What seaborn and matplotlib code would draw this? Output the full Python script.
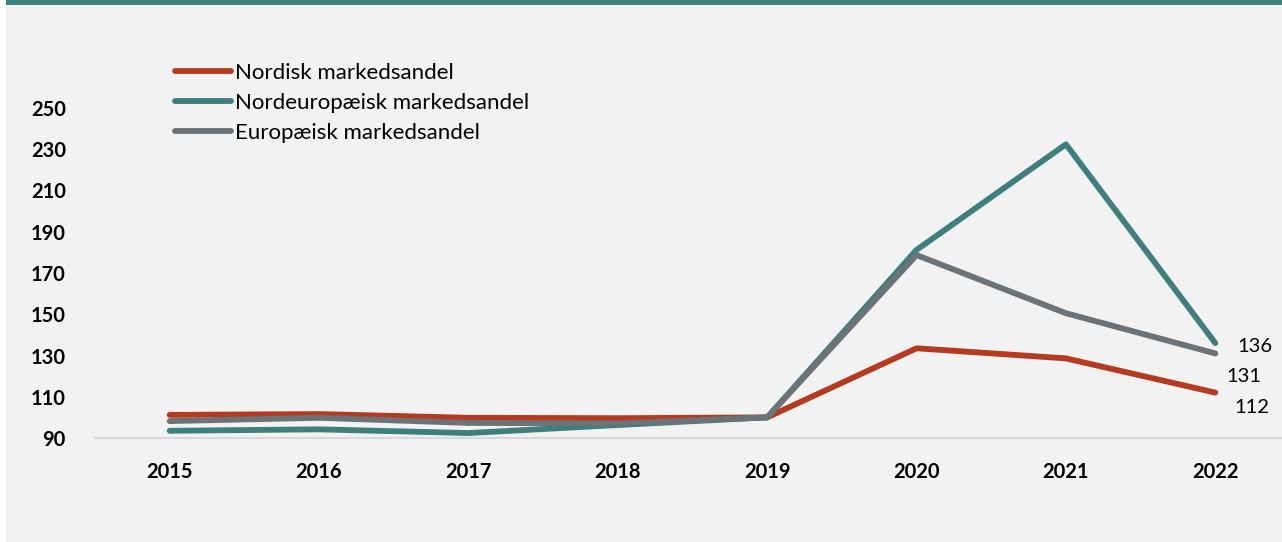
import matplotlib
matplotlib.use("Agg")
import matplotlib.pyplot as plt
from matplotlib.patches import Rectangle
from matplotlib.lines import Line2D
import pandas as pd
import seaborn as sns

years = ["2015", "2016", "2017", "2018", "2019", "2020", "2021", "2022"]
nordisk = [101.2, 101.6, 99.8, 99.6, 100.0, 133.5, 128.6, 112.0]
nordeuropaeisk = [93.5, 94.2, 92.4, 96.3, 100.0, 181.2, 232.4, 136.0]
europaeisk = [98.2, 99.8, 97.3, 97.1, 100.0, 178.7, 150.5, 131.0]

series_names = ["Nordisk markedsandel", "Nordeuropæisk markedsandel", "Europæisk markedsandel"]
series_values = [nordisk, nordeuropaeisk, europaeisk]
colors = ["#b53b20", "#3d7f7c", "#6d7277"]

rows = []
for name, vals in zip(series_names, series_values):
    for i, (yr, v) in enumerate(zip(years, vals)):
        rows.append({"idx": i, "year": yr, "value": v, "serie": name})
df = pd.DataFrame(rows)

sns.set_theme(style="white")
plt.rcParams["font.family"] = ["Lato", "DejaVu Sans"]

W, H = 1282, 542
fig = plt.figure(figsize=(W / 100, H / 100), dpi=100, facecolor="white")

# panel background and top band, kept behind the axes
fig.patches.append(Rectangle((6 / W, 0), 1 - 6 / W, 1 - 5 / H, transform=fig.transFigure,
                             facecolor="#f2f2f2", edgecolor="none", zorder=-5))
fig.patches.append(Rectangle((6 / W, 1 - 5 / H), 1 - 6 / W, 5 / H, transform=fig.transFigure,
                             facecolor="#3d7f7c", edgecolor="none", zorder=-5))

ax = fig.add_axes([95 / W, 104 / H, 1195 / W, 330 / H])
ax.set_facecolor("none")

sns.lineplot(data=df, x="idx", y="value", hue="serie", hue_order=series_names,
             palette=colors, linewidth=4.2, ax=ax, legend=False,
             solid_capstyle="round", solid_joinstyle="round")

ax.set_xlim(-0.5, 7.5)
ax.set_ylim(90, 250)
ax.set_xticks(range(len(years)))
ax.set_xticklabels(years, fontsize=14.5, fontweight="bold", color="black")
ax.set_yticks(range(90, 251, 20))
ax.set_yticklabels([str(t) for t in range(90, 251, 20)], fontsize=14.5,
                   fontweight="bold", color="black")
ax.tick_params(axis="y", length=0, pad=21)
ax.tick_params(axis="x", length=0, pad=17)
ax.set_xlabel("")
ax.set_ylabel("")
for side in ["top", "right", "left"]:
    ax.spines[side].set_visible(False)
ax.spines["bottom"].set_color("#d9d9d9")
ax.spines["bottom"].set_linewidth(1.5)
ax.grid(False)

# end-of-line value labels
label_offsets = {
    "Nordisk markedsandel": (37, -15),
    "Nordeuropæisk markedsandel": (40, -3),
    "Europæisk markedsandel": (29, -23),
}
for name, vals in zip(series_names, series_values):
    ax.annotate(f"{vals[-1]:.0f}", xy=(len(years) - 1, vals[-1]),
                xytext=label_offsets[name], textcoords="offset pixels",
                ha="center", va="center", fontsize=14.5, color="black",
                annotation_clip=False)

# legend
handles = [Line2D([0], [0], color=c, lw=4.2, solid_capstyle="round") for c in colors]
leg = fig.legend(handles, series_names, loc="upper left",
                 bbox_to_anchor=(175 / W, 1 - 63 / H), frameon=False,
                 fontsize=16, handlelength=2.5, handletextpad=0.2,
                 labelspacing=0.44, borderaxespad=0, borderpad=0)
for t in leg.get_texts():
    t.set_color("black")

fig.savefig("out.png", dpi=100, facecolor="white")
